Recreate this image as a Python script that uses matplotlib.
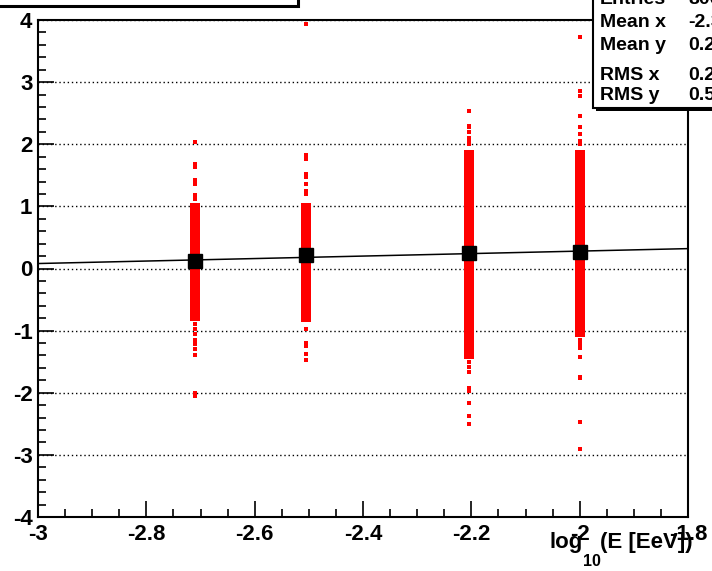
import matplotlib.pyplot as plt
from matplotlib.patches import Rectangle
from matplotlib.ticker import MultipleLocator

# energy bins (log10 E) and fitted profile means
x_bins = [-2.71, -2.505, -2.204, -2.0]
profile_y = [0.125, 0.22, 0.25, 0.27]

# dense core of each scatter column (y from / to)
core_lo = [-0.85, -0.86, -1.45, -1.1]
core_hi = [1.05, 1.06, 1.9, 1.9]

# sparse points outside the dense cores, per column
outliers = [
    [2.03, 1.68, 1.64, 1.42, 1.36, 1.18, 1.12, -0.9, -0.98, -1.05, -1.15, -1.22, -1.3, -1.4, -2.0, -2.06],
    [3.94, 1.82, 1.76, 1.52, 1.47, 1.36, 1.25, 1.2, -0.98, -1.2, -1.25, -1.37, -1.48],
    [2.54, 2.3, 2.27, 2.2, 2.1, 2.05, 2.0, -1.5, -1.58, -1.66, -1.92, -1.97, -2.16, -2.38, -2.51],
    [3.73, 2.85, 2.77, 2.45, 2.27, 2.17, 2.06, 2.0, -1.15, -1.22, -1.28, -1.42, -1.74, -1.76, -2.47, -2.9],
]

# straight line fit  y = p0 + p1 * x
p0, p1 = 0.68, 0.2
fit_x = [-3.0, -1.8]

stat_names = ["Entries", "Mean x", "Mean y", "RMS x", "RMS y"]
stat_values = ["80000", "-2.355", "0.2139", "0.2612", "0.5468"]

plt.rcParams['font.family'] = ['Liberation Sans', 'DejaVu Sans']
plt.rcParams['font.weight'] = 'bold'

W, H = 712, 571
fig = plt.figure(figsize=(W / 100, H / 100), dpi=100)
ax = fig.add_axes([38 / W, 1 - 517 / H, (688 - 38) / W, (517 - 20) / H])

# red scatter columns
col_w = 0.018
for xb, lo, hi, pts in zip(x_bins, core_lo, core_hi, outliers):
    ax.bar(xb, hi - lo, bottom=lo, width=col_w, color='#ff0000', linewidth=0, zorder=2)
    ax.plot([xb] * len(pts), pts, 's', color='#ff0000', markersize=2.4,
            markeredgewidth=0, zorder=2, clip_on=False)

# fit line and profile markers
ax.plot(fit_x, [p0 + p1 * v for v in fit_x], color='black', lw=1.1, zorder=3)
ax.plot(x_bins, profile_y, 's', color='black', markersize=10, zorder=4)

ax.set_xlim(-3, -1.8)
ax.set_ylim(-4, 4)
ax.xaxis.set_major_locator(MultipleLocator(0.2))
ax.xaxis.set_minor_locator(MultipleLocator(0.05))
ax.yaxis.set_major_locator(MultipleLocator(1))
ax.yaxis.set_minor_locator(MultipleLocator(0.2))
ax.xaxis.set_major_formatter(plt.FuncFormatter(lambda v, p: f"{v:g}"))
ax.yaxis.set_major_formatter(plt.FuncFormatter(lambda v, p: f"{v:g}"))

ax.tick_params(which='both', direction='in', top=False, right=False, width=1.2)
ax.tick_params(which='major', length=11.5, labelsize=16)
ax.tick_params(which='minor', length=6)
ax.tick_params(axis='x', which='major', pad=5)
ax.tick_params(axis='y', which='major', pad=4)

ax.grid(True, axis='y', which='major', color='black', lw=1, linestyle=(0, (1, 2)))
ax.set_axisbelow(True)
for sp in ax.spines.values():
    sp.set_linewidth(1.5)

# x axis title: log, lowered subscript 10, then (E [EeV]) ending at the right edge
renderer = fig.canvas.get_renderer()
t_main = fig.text(693 / W, 1 - 548 / H, "(E [EeV])", ha='right', va='baseline',
                  fontsize=16, fontweight='bold')
x_left = t_main.get_window_extent(renderer).x0
t_sub = fig.text(x_left / W, 1 - 566 / H, "10", ha='right', va='baseline',
                 fontsize=11.5, fontweight='bold')
x_left = t_sub.get_window_extent(renderer).x0
fig.text(x_left / W, 1 - 548 / H, "log", ha='right', va='baseline',
         fontsize=16, fontweight='bold')

# title box (cut at top) and stats box
fig.patches.append(Rectangle((-0.01, 1 - 6 / H), (298 + 7) / W, 0.1, transform=fig.transFigure,
                             fill=False, edgecolor='black', lw=2.2))
fig.patches.append(Rectangle((596 / W, 1 - 111 / H), 0.3, 0.3, transform=fig.transFigure,
                             facecolor='black', edgecolor='black', lw=0))
fig.patches.append(Rectangle((593 / W, 1 - 108 / H), 0.3, 0.3, transform=fig.transFigure,
                             facecolor='white', edgecolor='black', lw=1.5))

baselines = [4, 27, 50, 80, 100]
for name, val, yb in zip(stat_names, stat_values, baselines):
    fig.text(600 / W, 1 - yb / H, name, ha='left', va='baseline', fontsize=14, fontweight='bold')
    fig.text(688 / W, 1 - yb / H, val, ha='left', va='baseline', fontsize=14, fontweight='bold')

fig.savefig('out.png', dpi=100)
